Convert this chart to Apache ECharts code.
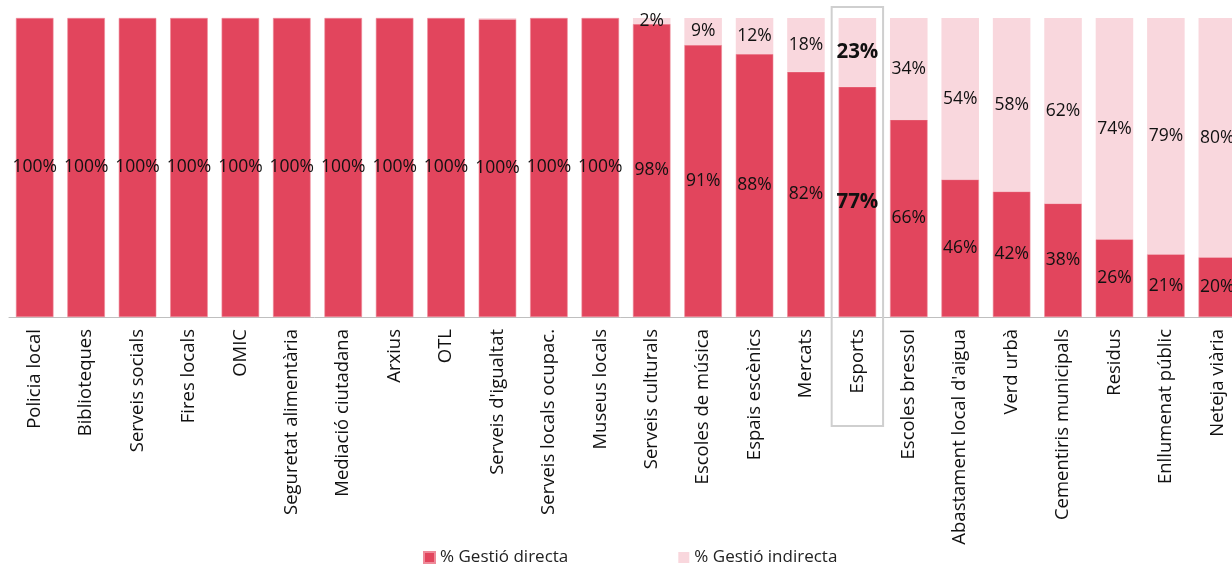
<!DOCTYPE html>
<html>
<head>
<meta charset="utf-8">
<script src="https://cdn.jsdelivr.net/npm/echarts@6/dist/echarts.min.js"></script>
<style>
  html, body { margin: 0; padding: 0; background: #fff; }
  #main { width: 1232px; height: 564px; }
</style>
</head>
<body>
<div id="main"></div>
<script>
// categories (services) and shares
const categories = ['Policia local', 'Biblioteques', 'Serveis socials', 'Fires locals', 'OMIC',
  'Seguretat alimentària', 'Mediació ciutadana', 'Arxius', 'OTL', "Serveis d'igualtat",
  'Serveis locals ocupac.', 'Museus locals', 'Serveis culturals', 'Escoles de música',
  'Espais escènics', 'Mercats', 'Esports', 'Escoles bressol', "Abastament local d'aigua",
  'Verd urbà', 'Cementiris municipals', 'Residus', 'Enllumenat públic', 'Neteja viària']
const directa = [100, 100, 100, 100, 100, 100, 100, 100, 100, 99.6, 100, 100, 98, 91, 88, 82, 77, 66, 46, 42, 38, 26, 21, 20]
const indirecta = [0, 0, 0, 0, 0, 0, 0, 0, 0, 0.4, 0, 0, 2, 9, 12, 18, 23, 34, 54, 58, 62, 74, 79, 80]
const highlight = 'Esports'

const FONT = '"Open Sans", "Noto Sans", sans-serif'

// the highlighted category gets bold labels
function toItems(arr) {
  return arr.map((v, i) => categories[i] === highlight
    ? { value: v, label: { fontWeight: 'bold', fontSize: 20.5 } }
    : v)
}

function fmt(p) {
  if (p.value < 1) return ''
  return Math.round(p.value) + '%'
}

const chart = echarts.init(document.getElementById('main'))

const option = {
  animation: false,
  textStyle: { fontFamily: FONT },
  legend: {
    bottom: -7,
    left: 418,
    itemGap: 110,
    itemWidth: 11,
    itemHeight: 11,
    icon: 'rect',
    textStyle: { fontSize: 17, color: '#222', fontFamily: FONT }
  },
  grid: { left: 9, top: 18, width: 1234, height: 299, outerBoundsMode: 'none', containLabel: false },
  xAxis: {
    type: 'category',
    data: categories,
    axisLine: { lineStyle: { color: '#bfbfbf' } },
    axisTick: { length: 7, lineStyle: { color: '#bfbfbf' } },
    axisLabel: {
      rotate: 90,
      interval: 0,
      margin: 12,
      fontSize: 18.5,
      color: '#111',
      fontFamily: FONT
    }
  },
  yAxis: { type: 'value', min: 0, max: 100, show: false, splitLine: { show: false } },
  series: [
    {
      name: '% Gestió directa',
      type: 'bar',
      stack: 'total',
      barWidth: '73%',
      data: toItems(directa),
      itemStyle: { color: '#E2455D', borderColor: '#ee8a99', borderWidth: 0.6 },
      label: { show: true, position: 'inside', formatter: fmt, fontSize: 17.5, color: '#111', fontFamily: FONT }
    },
    {
      name: '% Gestió indirecta',
      type: 'bar',
      stack: 'total',
      barWidth: '73%',
      data: toItems(indirecta),
      itemStyle: { color: '#F9D7DD' },
      label: { show: true, position: 'inside', formatter: fmt, fontSize: 17.5, color: '#111', fontFamily: FONT }
    }
  ]
}

chart.setOption(option)

// frame around the highlighted category, placed from the axis scale
const cx = chart.convertToPixel({ xAxisIndex: 0 }, highlight)
const band = chart.getModel().getComponent('xAxis', 0).axis.getBandWidth()
chart.setOption({
  graphic: [{
    type: 'rect',
    shape: { x: cx - band / 2, y: 7, width: band, height: 419 },
    style: { fill: 'none', stroke: '#cfcfcf', lineWidth: 2 },
    z: 10
  }]
})
</script>
</body>
</html>
